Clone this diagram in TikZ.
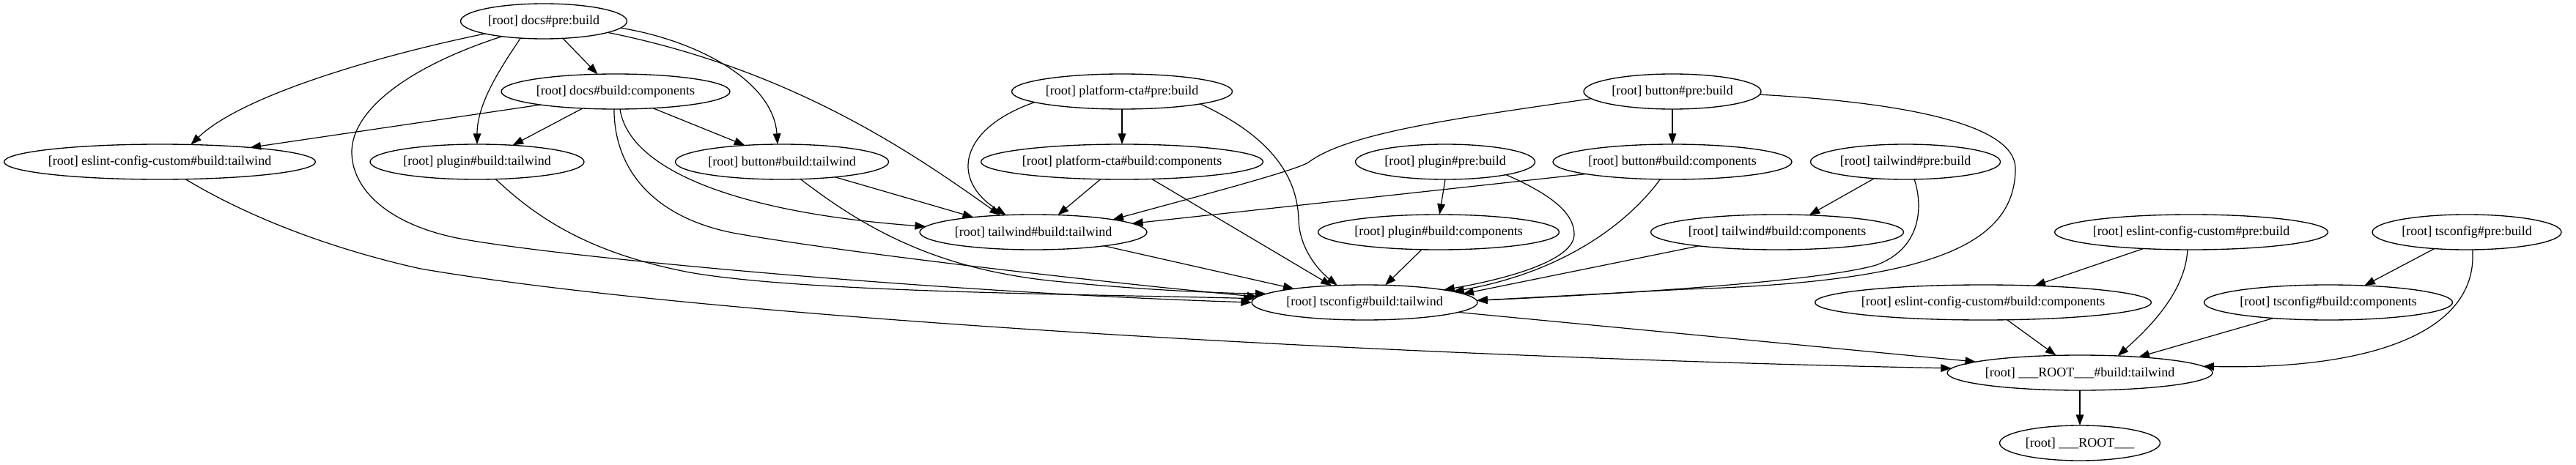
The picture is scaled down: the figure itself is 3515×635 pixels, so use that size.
\documentclass[tikz,border=0pt]{standalone}
\usepackage{fontspec}
\setmainfont{Liberation Serif}
\usetikzlibrary{shapes.geometric,arrows.meta}
\newcommand{\nlab}[1]{\makebox[0pt]{#1}}
\begin{document}
\begin{tikzpicture}[x=0.75pt,y=-0.75pt,
  nd/.style={draw, ellipse, line width=1pt, inner sep=0pt, outer sep=0pt,
    minimum height=36pt, minimum width=#1*0.75pt, font=\fontsize{13.5}{16}\selectfont},
  e/.style={draw, line width=0.9pt, -{Triangle[length=11pt,width=8pt]}}]
\path[fill=white] (0,0) rectangle (3515,635);
% nodes
\node[nd=227] (D)   at (742,29)   {\nlab{[root] docs\#pre:build}};
\node[nd=312] (DC)  at (840,125)  {\nlab{[root] docs\#build:components}};
\node[nd=425] (ET)  at (218,221)  {\nlab{[root] eslint-config-custom\#build:tailwind}};
\node[nd=292] (PT)  at (651,221)  {\nlab{[root] plugin\#build:tailwind}};
\node[nd=291] (BT)  at (1067,221) {\nlab{[root] button\#build:tailwind}};
\node[nd=301] (PP)  at (1531,125) {\nlab{[root] platform-cta\#pre:build}};
\node[nd=385] (PCC) at (1531,221) {\nlab{[root] platform-cta\#build:components}};
\node[nd=245] (PLP) at (1972,221) {\nlab{[root] plugin\#pre:build}};
\node[nd=242] (BP)  at (2282,125) {\nlab{[root] button\#pre:build}};
\node[nd=326] (BC)  at (2282,221) {\nlab{[root] button\#build:components}};
\node[nd=259] (TWP) at (2600,221) {\nlab{[root] tailwind\#pre:build}};
\node[nd=310] (TWT) at (1410,317) {\nlab{[root] tailwind\#build:tailwind}};
\node[nd=329] (PLC) at (1963,317) {\nlab{[root] plugin\#build:components}};
\node[nd=345] (TWC) at (2425,317) {\nlab{[root] tailwind\#build:components}};
\node[nd=373] (EP)  at (2990,317) {\nlab{[root] eslint-config-custom\#pre:build}};
\node[nd=258] (TP)  at (3366,317) {\nlab{[root] tsconfig\#pre:build}};
\node[nd=308] (TT)  at (1862,413) {\nlab{[root] tsconfig\#build:tailwind}};
\node[nd=459] (EC)  at (2706,413) {\nlab{[root] eslint-config-custom\#build:components}};
\node[nd=339] (TC)  at (3177,413) {\nlab{[root] tsconfig\#build:components}};
\node[nd=362] (RT)  at (2838,509) {\nlab{[root] \_\_\_ROOT\_\_\_\#build:tailwind}};
\node[nd=219] (R)   at (2838,605) {\nlab{[root] \_\_\_ROOT\_\_\_}};
% edges from docs#pre:build
\draw[e] (D.192) .. controls (520,75) and (330,130) .. (ET.29);
\draw[e] (D.200) .. controls (560,90) and (478,150) .. (480,210)
  .. controls (482,265) and (540,312) .. (640,328)
  .. controls (800,355) and (1300,400) .. (TT.180);
\draw[e] (D.216) .. controls (685,90) and (651,140) .. (PT.90);
\draw[e] (D.318) -- (DC.136);
\draw[e] (D.355) .. controls (950,55) and (1055,110) .. (BT.104);
\draw[e] (D.350) .. controls (1081,95) and (1247,210) .. (TWT.153);
% edges from docs#build:components
\draw[e] (DC.190) -- (ET.9);
\draw[e] (DC.207) -- (PT.25);
\draw[e] (DC.336) -- (BT.156);
\draw[e] (DC.265) .. controls (838,230) and (890,296) .. (1000,318)
  .. controls (1150,345) and (1500,385) .. (TT.177);
\draw[e] (DC.284) .. controls (858,230) and (1000,290) .. (TWT.177);
% second row
\draw[e] (ET.326) .. controls (353,305) and (474,345) .. (574,367)
  .. controls (1000,440) and (2000,490) .. (RT.178);
\draw[e] (PT.317) .. controls (730,295) and (800,345) .. (941,372)
  .. controls (1100,400) and (1500,402) .. (TT.178.5);
\draw[e] (BT.317) .. controls (1180,312) and (1280,370) .. (1450,385)
  .. controls (1550,395) and (1650,400) .. (TT.175);
\draw[e] (BT.344) -- (TWT.166);
\draw[e] (TWT.349) -- (TT.169);
% platform-cta
\draw[e] (PP) -- (PCC);
\draw[e] (PP.187) .. controls (1310,175) and (1295,245) .. (TWT.148);
\draw[e] (PP.351) .. controls (1720,180) and (1770,230) .. (1772,300)
  .. controls (1773,340) and (1800,370) .. (TT.148);
\draw[e] (PCC.330) -- (TT.153);
\draw[e] (PCC.219) -- (TWT.35);
% button
\draw[e] (BP) -- (BC);
\draw[e] (BP.185) .. controls (2000,160) and (1840,180) .. (1785,222)
  .. controls (1765,234) and (1620,272) .. (TWT.9);
\draw[e] (BP.358) .. controls (2600,140) and (2750,170) .. (2750,230)
  .. controls (2750,340) and (2620,385) .. (2300,395) -- (TT.1.5);
\draw[e] (BC.235) .. controls (2225,300) and (2140,370) .. (TT.7);
\draw[e] (BC.188) -- (TWT.5);
% plugin
\draw[e] (PLP.270) -- (PLC.87);
\draw[e] (PLP.348) .. controls (2115,265) and (2148,290) .. (2148,320)
  .. controls (2148,355) and (2060,380) .. (TT.9);
\draw[e] (PLC.226) -- (TT.40);
% tailwind
\draw[e] (TWP.208) -- (TWC.28);
\draw[e] (TWP.297) .. controls (2625,285) and (2620,340) .. (2560,362)
  .. controls (2480,385) and (2200,402) .. (TT.1);
\draw[e] (TWC.190) -- (TT.5);
% to root
\draw[e] (TT.354) -- (RT.174);
\draw[e] (EP.199) -- (EC.18);
\draw[e] (EP.258) .. controls (2982,400) and (2930,450) .. (RT.24);
\draw[e] (EC.324) -- (RT.144);
\draw[e] (TP.207) -- (TC.25);
\draw[e] (TP.288) .. controls (3382,460) and (3220,505) .. (RT.3);
\draw[e] (TC.196) -- (RT.15);
\draw[e] (RT) -- (R);
\end{tikzpicture}
\end{document}
